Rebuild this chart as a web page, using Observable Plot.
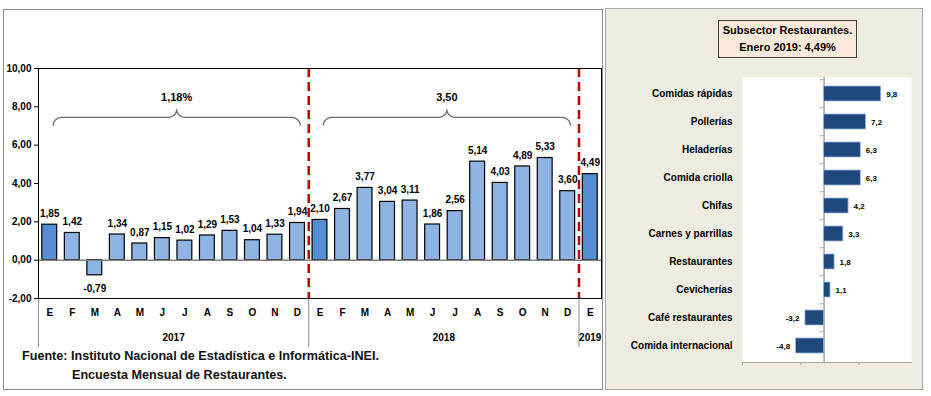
<!DOCTYPE html>
<html>
<head>
<meta charset="utf-8">
<script src="https://cdn.jsdelivr.net/npm/d3@7"></script>
<script src="https://cdn.jsdelivr.net/npm/@observablehq/plot@0.6"></script>
<style>
  html, body { margin: 0; padding: 0; background: white; }
  #root { position: relative; width: 931px; height: 396px; overflow: hidden; font-family: "Liberation Sans", Arial, sans-serif; }
  .abs { position: absolute; }
</style>
</head>
<body>
<div id="root">
  <div class="abs" style="left:3px;top:9px;width:598px;height:379px;border:1px solid #8c8c8c;background:white"></div>
  <div class="abs" id="left" style="left:0;top:0"></div>
  <div class="abs" id="src1" style="left:22px;top:349px;font-size:12.6px;font-weight:bold;color:#111;white-space:nowrap"></div>
  <div class="abs" id="src2" style="left:72px;top:368px;font-size:12.6px;font-weight:bold;color:#111;white-space:nowrap"></div>
  <div class="abs" style="left:605px;top:8px;width:316px;height:380px;background:#EEECE1;border:1px solid #a6a6a6"></div>
  <div class="abs" id="right" style="left:605px;top:8px"></div>
  <div class="abs" id="titlebox" style="left:718px;top:20px;width:137px;height:35px;background:#FDE9D9;border:1.5px solid #404040;font-size:11px;font-weight:bold;text-align:center;line-height:17px;padding-top:1px"></div>
</div>
<script>
// ---------------- data ----------------
const months = ["E","F","M","A","M","J","J","A","S","O","N","D",
                "E","F","M","A","M","J","J","A","S","O","N","D","E"];
const yearOf = [2017,2017,2017,2017,2017,2017,2017,2017,2017,2017,2017,2017,
                2018,2018,2018,2018,2018,2018,2018,2018,2018,2018,2018,2018,2019];
const values = [1.85,1.42,-0.79,1.34,0.87,1.15,1.02,1.29,1.53,1.04,1.33,1.94,
                2.10,2.67,3.77,3.04,3.11,1.86,2.56,5.14,4.03,4.89,5.33,3.60,4.49];
const periodYears = [2017, 2018];
const periodLabels = ["1,18%", "3,50"];
const yTicks = [-2, 0, 2, 4, 6, 8, 10];

const sectors = ["Comidas rápidas","Pollerías","Heladerías","Comida criolla","Chifas",
                 "Carnes y parrillas","Restaurantes","Cevicherías","Café restaurantes","Comida internacional"];
const growth = [9.8, 7.2, 6.3, 6.3, 4.2, 3.3, 1.8, 1.1, -3.2, -4.8];
const growthTicks = [-14, -4, 6];

const titleLines = ["Subsector Restaurantes.", "Enero 2019: 4,49%"];
const sourceLines = ["Fuente: Instituto Nacional de Estadística e Informática-INEI.", "Encuesta Mensual de  Restaurantes."];

// ---------------- helpers ----------------
const FONT = "'Liberation Sans', Arial, sans-serif";
const fmt2 = d => d.toFixed(2).replace(".", ",");
const fmt1 = d => d.toFixed(1).replace(".", ",");
const rows = values.map((v, i) => ({i, v, m: months[i], year: yearOf[i], first: i === 0 || yearOf[i] !== yearOf[i - 1]}));
const yearGroups = d3.groups(rows, d => d.year).map(([year, r]) => ({year, first: r[0].i, last: r[r.length - 1].i, center: (r[0].i + r[r.length - 1].i) / 2}));
const boundaries = rows.filter(d => d.first && d.i > 0).map(d => d.i - 0.5);
const separators = [-0.5, ...boundaries];

// curly brace geometry above each period
const braceY = 7.45, braceH = 0.4, braceR = 0.4;
function bracePoints(x0, x1, key) {
  const xm = (x0 + x1) / 2, pts = [], n = 8;
  for (let k = 0; k <= n; k++) { const t = k / n * Math.PI / 2; pts.push([x0 + braceR * (1 - Math.cos(t)), braceY - braceH * (1 - Math.sin(t))]); }
  for (let k = 0; k <= n; k++) { const t = k / n * Math.PI / 2; pts.push([xm - braceR + braceR * Math.sin(t), braceY + braceH * (1 - Math.cos(t))]); }
  for (let k = n; k >= 0; k--) { const t = k / n * Math.PI / 2; pts.push([xm + braceR - braceR * Math.sin(t), braceY + braceH * (1 - Math.cos(t))]); }
  for (let k = n; k >= 0; k--) { const t = k / n * Math.PI / 2; pts.push([x1 - braceR * (1 - Math.cos(t)), braceY - braceH * (1 - Math.sin(t))]); }
  return pts.map(([x, y]) => ({x, y, key}));
}
const braces = periodYears.map((yr, j) => {
  const g = yearGroups.find(g => g.year === yr);
  return {key: yr, label: periodLabels[j], x0: g.first + 0.15, x1: g.last + 0.12};
});
braces.forEach(b => b.mid = (b.x0 + b.x1) / 2);
const bracePts = braces.flatMap(b => bracePoints(b.x0, b.x1, b.key));

// ---------------- left chart ----------------
const left = Plot.plot({
  width: 605, height: 396,
  marginLeft: 38, marginRight: 4, marginTop: 68, marginBottom: 98,
  style: {background: "transparent", fontFamily: FONT, fontSize: "10px", fontWeight: "bold", color: "black", overflow: "visible"},
  x: {type: "linear", domain: [-0.5, months.length - 0.5], ticks: d3.range(months.length), tickFormat: i => months[i], tickSize: 0, tickPadding: 10, label: null},
  y: {domain: [-2, 10], ticks: yTicks, tickFormat: fmt2, tickSize: 4, tickPadding: 3, label: null},
  marks: [
    Plot.ruleX(separators, {stroke: "#8c8c8c", strokeWidth: 1, insetTop: 230, insetBottom: -49}),
    Plot.rectY(rows.filter(d => !d.first), {x1: d => d.i - 0.33, x2: d => d.i + 0.33, y1: 0, y2: "v", fill: "#8DB4E2", stroke: "black", strokeWidth: 1.2}),
    Plot.rectY(rows.filter(d => d.first), {x1: d => d.i - 0.33, x2: d => d.i + 0.33, y1: 0, y2: "v", fill: "#558ED5", stroke: "black", strokeWidth: 1.2}),
    Plot.ruleY([0], {stroke: "#808080", strokeWidth: 1.5}),
    Plot.ruleX(boundaries, {stroke: "#C00000", strokeWidth: 2.5, strokeDasharray: "9,5"}),
    Plot.frame({stroke: "black", strokeWidth: 1}),
    Plot.text(rows.filter(d => d.v >= 0), {x: "i", y: "v", text: d => fmt2(d.v), dy: -11, fontWeight: "bold", fontSize: 10}),
    Plot.text(rows.filter(d => d.v < 0), {x: "i", y: "v", text: d => fmt2(d.v), dy: 13, fontWeight: "bold", fontSize: 10}),
    Plot.line(bracePts, {x: "x", y: "y", z: "key", stroke: "#6e6e6e", strokeWidth: 1.3}),
    Plot.text(braces, {x: "mid", y: braceY, text: "label", dy: -20, fontWeight: "bold", fontSize: 11}),
    Plot.text(yearGroups, {x: "center", frameAnchor: "bottom", dy: 42, text: d => String(d.year), fontWeight: "bold", fontSize: 10})
  ]
});
document.getElementById("left").appendChild(left);
document.getElementById("src1").textContent = sourceLines[0];
document.getElementById("src2").textContent = sourceLines[1];

// ---------------- right chart ----------------
const sectorRows = sectors.map((s, i) => ({s, v: growth[i]}));
const rH = 382, rTop = 69, rBottom = 28;
const step = (rH - rTop - rBottom) / sectors.length;
const right = Plot.plot({
  width: 318, height: rH,
  marginLeft: 137, marginRight: 12, marginTop: rTop, marginBottom: rBottom,
  style: {background: "transparent", fontFamily: FONT, fontSize: "10px", fontWeight: "bold", color: "black", overflow: "visible"},
  x: {domain: [-14, 15], axis: null},
  y: {type: "band", domain: sectors, paddingInner: 0.45, paddingOuter: 0.225, tickSize: 0, tickPadding: 10, label: null},
  marks: [
    Plot.frame({fill: "white", stroke: null}),
    Plot.frame({anchor: "bottom", stroke: "#A6A6A6", strokeWidth: 1.2}),
    Plot.ruleX(growthTicks, {stroke: "#A6A6A6", insetTop: rH - rTop - rBottom, insetBottom: -3}),
    Plot.ruleX([0], {stroke: "#A6A6A6", strokeWidth: 1.5}),
    Plot.ruleY(sectors, {y: d => d, x1: 0, x2: 0, insetLeft: -4, dy: -step / 2, stroke: "#A6A6A6"}),
    Plot.barX(sectorRows, {y: "s", x: "v", fill: "#1F497D", stroke: "#95B3D7", strokeWidth: 0.8}),
    Plot.text(sectorRows.filter(d => d.v >= 0), {y: "s", x: "v", text: d => fmt1(d.v), textAnchor: "start", dx: 5, fontSize: 8, fontWeight: "bold"}),
    Plot.text(sectorRows.filter(d => d.v < 0), {y: "s", x: "v", text: d => fmt1(d.v), textAnchor: "end", dx: -6, fontSize: 8, fontWeight: "bold"})
  ]
});
document.getElementById("right").appendChild(right);
document.getElementById("titlebox").innerHTML = titleLines.map(t => `<div>${t}</div>`).join("");
</script>
</body>
</html>
